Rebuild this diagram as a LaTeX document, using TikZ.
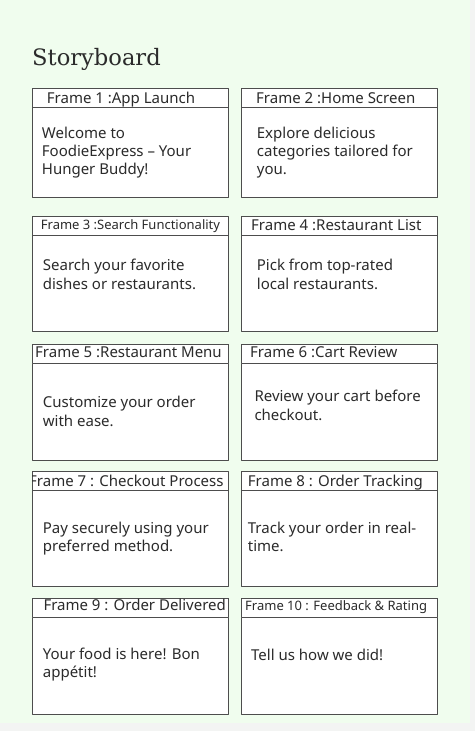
\documentclass[tikz,border=0pt]{standalone}
\usepackage{fontspec}
\setmainfont{Noto Sans}
\newfontfamily\slabfont{DejaVu Serif}
\definecolor{boardbg}{HTML}{F0FDEE}
\definecolor{stripgray}{HTML}{F3F4F3}
\definecolor{framegray}{HTML}{4D4D4D}
\definecolor{inkgray}{HTML}{2B2B2B}
\tikzset{
  framebox/.style={draw=framegray, fill=white, line width=0.9pt, anchor=north west, minimum width=196.5pt, inner sep=0pt, outer sep=0pt},
  framebar/.style={framebox, minimum height=19pt},
  bartext/.style={anchor=base west, inner sep=0pt, text=inkgray, font=\fontsize{15}{17}\selectfont},
  barsmall/.style={bartext, font=\fontsize{13}{15}\selectfont},
  % multi-line texts sit on the baseline of their last line
  bodytext/.style={anchor=base west, inner sep=0pt, align=left, text=inkgray, font=\fontsize{15}{18.3}\selectfont},
}

\begin{document}
\begin{tikzpicture}[x=1pt,y=-1pt,line join=round]
  \useasboundingbox (0,0) rectangle (475,731);
  \fill [stripgray] (0,0) rectangle (475,731);
  \fill [boardbg] (0,0) rectangle (470,723);
  \node [anchor=base west, inner sep=0pt, text=inkgray, font=\slabfont\fontsize{22.6}{26}\selectfont] (heading) at (32,65) {Storyboard};

  % row 1
  \node [framebox, minimum height=109pt] (box1) at (32,88) {};
  \node [framebar] (bar1) at (32,88) {};
  \node [bartext] (cap1) at (46.7,103.3) {Frame 1 :App Launch};
  \node [bodytext] (txt1) at (41.7,174.9) {Welcome to\\FoodieExpress – Your\\Hunger Buddy!};
  \node [framebox, minimum height=109pt] (box2) at (241,88) {};
  \node [framebar] (bar2) at (241,88) {};
  \node [bartext] (cap2) at (256,103.3) {Frame 2 :Home Screen};
  \node [bodytext] (txt2) at (256.7,174.9) {Explore delicious\\categories tailored for\\you.};

  % row 2
  \node [framebox, minimum height=115pt] (box3) at (32,216) {};
  \node [framebar] (bar3) at (32,216) {};
  \node [barsmall] (cap3) at (40.7,229.5) {Frame 3 :Search Functionality};
  \node [bodytext] (txt3) at (42.7,289) {Search your favorite\\dishes or restaurants.};
  \node [framebox, minimum height=115pt] (box4) at (241,216) {};
  \node [framebar] (bar4) at (241,216) {};
  \node [bartext] (cap4) at (251,230.5) {Frame 4 :Restaurant List};
  \node [bodytext] (txt4) at (256.7,289) {Pick from top-rated\\local restaurants.};

  % row 3
  \node [framebox, minimum height=115.5pt] (box5) at (32,344.5) {};
  \node [framebar] (bar5) at (32,344.5) {};
  \node [bartext] (cap5) at (35,357.3) {Frame 5 :Restaurant Menu};
  \node [bodytext] (txt5) at (42.7,426) {Customize your order\\with ease.};
  \node [framebox, minimum height=115.5pt] (box6) at (241,344.5) {};
  \node [framebar] (bar6) at (241,344.5) {};
  \node [bartext] (cap6) at (250,357) {Frame 6 :Cart Review};
  \node [bodytext] (txt6) at (254.3,420) {Review your cart before\\checkout.};

  % row 4
  \node [framebox, minimum height=115pt] (box7) at (32,471) {};
  \node [framebar] (bar7) at (32,471) {};
  \begin{scope}
    \clip (32,471) rectangle (230,490);
    \node [bartext] (cap7) at (29,486.7) {Frame 7 : Checkout Process};
  \end{scope}
  \node [bodytext] (txt7) at (42.7,551.6) {Pay securely using your\\preferred method.};
  \node [framebox, minimum height=115pt] (box8) at (241,471) {};
  \node [framebar] (bar8) at (241,471) {};
  \node [bartext] (cap8) at (247.7,486.7) {Frame 8 : Order Tracking};
  \node [bodytext] (txt8) at (247.7,551.6) {Track your order in real-\\time.};

  % row 5
  \node [framebox, minimum height=115.5pt] (box9) at (32,598.5) {};
  \node [framebar] (bar9) at (32,598.5) {};
  \node [bartext] (cap9) at (43.3,610.7) {Frame 9 : Order Delivered};
  \node [bodytext] (txt9) at (42.7,677.6) {Your food is here! Bon\\appétit!};
  \node [framebox, minimum height=115.5pt] (box10) at (241,598.5) {};
  \node [framebar] (bar10) at (241,598.5) {};
  \node [barsmall] (cap10) at (245,610.7) {Frame 10 : Feedback \& Rating};
  \node [bodytext] (txt10) at (251,660) {Tell us how we did!};
\end{tikzpicture}
\end{document}
